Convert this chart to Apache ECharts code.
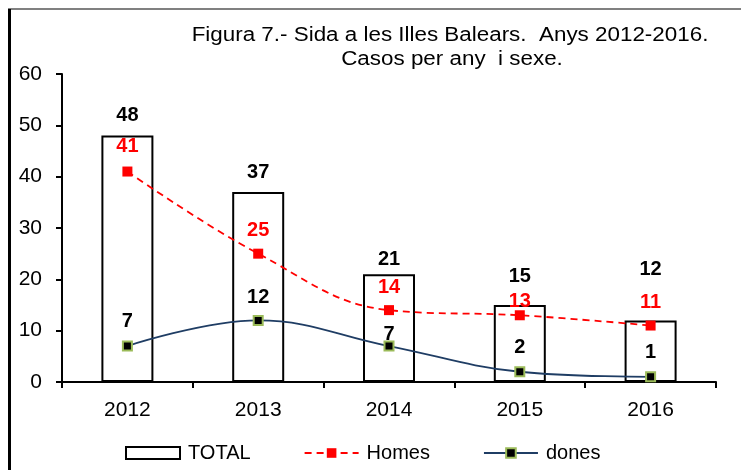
<!DOCTYPE html>
<html>
<head>
<meta charset="utf-8">
<script src="https://cdn.jsdelivr.net/npm/echarts@6/dist/echarts.min.js"></script>
<style>html,body{margin:0;padding:0;background:#fff}#c{width:741px;height:470px}</style>
</head>
<body>
<div id="c"></div>
<script>
const years = ['2012', '2013', '2014', '2015', '2016'];
const total = [48, 37, 21, 15, 12];
const homes = [41, 25, 14, 13, 11];
const dones = [7, 12, 7, 2, 1];
const yTicks = [0, 10, 20, 30, 40, 50, 60];
const titleLines = ['Figura 7.- Sida a les Illes Balears.  Anys 2012-2016.', 'Casos per any  i sexe.'];

// label lift (px, label centre above mark) as placed in the original
const totalLift = [20, 20, 15, 29, 51];
const homesLift = [25, 23, 23, 14, 23];
const donesLift = [25, 23, 12, 24, 24];

const FONT = '"Liberation Sans", Arial, sans-serif';
const LBL = 20;

function barItems(vals, lift) {
  return vals.map((v, i) => ({
    value: v,
    label: {position: 'top', distance: lift[i] - LBL / 2}
  }));
}
function lineItems(vals, lift) {
  return vals.map((v, i) => ({
    value: v,
    label: {position: 'inside', offset: [0, -lift[i]]}
  }));
}

const chart = echarts.init(document.getElementById('c'), null, {renderer: 'canvas'});
chart.setOption({
  animation: false,
  backgroundColor: '#fff',
  textStyle: {fontFamily: FONT},
  graphic: [
    {type: 'rect', shape: {x: 8, y: 8, width: 733, height: 2}, style: {fill: '#808080'}, silent: true},
    {type: 'rect', shape: {x: 8, y: 9, width: 3, height: 461}, style: {fill: '#000'}, silent: true},
    {type: 'text', x: 450, y: 35, scaleX: 1.12,
      style: {text: titleLines[0], fill: '#000', font: '20px ' + FONT, textAlign: 'center', textVerticalAlign: 'middle'}},
    {type: 'text', x: 452, y: 59, scaleX: 1.12,
      style: {text: titleLines[1], fill: '#000', font: '20px ' + FONT, textAlign: 'center', textVerticalAlign: 'middle'}}
  ],
  legend: {
    top: 438, left: 120,
    itemWidth: 54, itemHeight: 12, itemGap: 53,
    textStyle: {fontFamily: FONT, fontSize: 20, color: '#000', padding: [0, 0, 0, 3]},
    data: [
      {name: 'TOTAL', icon: 'rect'},
      {name: 'Homes'},
      {name: 'dones'}
    ]
  },
  grid: {left: 62, right: 25, top: 74, bottom: 88},
  xAxis: {
    type: 'category', data: years, boundaryGap: true,
    axisLine: {lineStyle: {color: '#000', width: 2}},
    axisTick: {show: true, length: 6, lineStyle: {color: '#000', width: 2}},
    axisLabel: {fontFamily: FONT, fontSize: 21, color: '#000', margin: 18}
  },
  yAxis: {
    type: 'value', min: 0, max: 60, interval: 10,
    axisLine: {show: true, lineStyle: {color: '#000', width: 2}},
    axisTick: {show: true, length: 6, lineStyle: {color: '#000', width: 2}},
    splitLine: {show: false},
    axisLabel: {fontFamily: FONT, fontSize: 21, color: '#000', margin: 20,
      formatter: v => yTicks.includes(v) ? String(v) : ''}
  },
  series: [
    {
      name: 'TOTAL', type: 'bar', data: barItems(total, totalLift), barWidth: 52,
      itemStyle: {color: '#fff', borderColor: '#000', borderWidth: 2},
      label: {show: true, fontFamily: FONT, fontSize: LBL, fontWeight: 'bold', color: '#000'},
      z: 1
    },
    {
      name: 'Homes', type: 'line', data: lineItems(homes, homesLift), smooth: 0.4,
      lineStyle: {color: '#ff0000', width: 1.8, type: [7, 5]},
      symbol: 'rect', symbolSize: 10,
      itemStyle: {color: '#ff0000', borderColor: '#ff0000', borderWidth: 0},
      label: {show: true, fontFamily: FONT, fontSize: LBL, fontWeight: 'bold', color: '#ff0000'},
      z: 3
    },
    {
      name: 'dones', type: 'line', data: lineItems(dones, donesLift), smooth: 0.4,
      lineStyle: {color: '#1f3d64', width: 1.8},
      symbol: 'rect', symbolSize: 9,
      itemStyle: {color: '#000', borderColor: '#9bbb59', borderWidth: 2},
      label: {show: true, fontFamily: FONT, fontSize: LBL, fontWeight: 'bold', color: '#000'},
      z: 3
    }
  ]
});
</script>
</body>
</html>
